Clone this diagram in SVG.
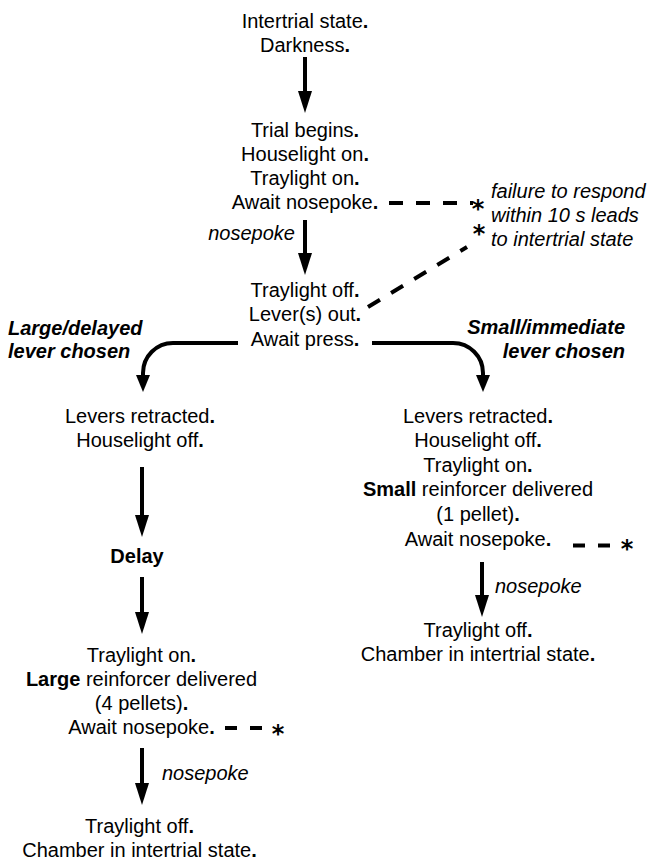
<svg xmlns="http://www.w3.org/2000/svg" width="650" height="863" viewBox="0 0 650 863">
<style>
text{font-family:"Liberation Sans",Arial,Helvetica,sans-serif;font-size:20px;fill:#000}
.c{text-anchor:middle}
.r{text-anchor:end}
.i{font-style:italic}
.bi{font-style:italic;font-weight:bold}
.b{font-weight:bold}
.ast{font-family:"DejaVu Sans",sans-serif;font-size:24px;font-weight:bold;text-anchor:middle}
.arr{fill:none;stroke:#000;stroke-width:4;marker-end:url(#ah)}
.arrc{fill:none;stroke:#000;stroke-width:4;marker-end:url(#ahs)}
.dash{fill:none;stroke:#000;stroke-width:4;stroke-dasharray:14 13}
</style>
<defs>
<marker id="ah" markerUnits="userSpaceOnUse" markerWidth="22" markerHeight="14" refX="1" refY="7" orient="auto" overflow="visible"><path d="M0,0 L22,7 L0,14 z" fill="#000"/></marker>
<marker id="ahs" markerUnits="userSpaceOnUse" markerWidth="17" markerHeight="14" refX="1" refY="7" orient="auto" overflow="visible"><path d="M0,0 L17,7 L0,14 z" fill="#000"/></marker>
</defs>

<g id="connectors">
<path class="arr" d="M305,57 V92"/>
<path class="arr" d="M305,220 V254"/>
<path class="arrc" d="M238,343 H173 A30,30 0 0 0 143,373 V376"/>
<path class="arrc" d="M372,343 H453 A30,30 0 0 1 483,373 V376"/>
<path class="arr" d="M142,467 V516"/>
<path class="arr" d="M142,577 V613"/>
<path class="arr" d="M142,748 V784"/>
<path class="arr" d="M482,562 V596"/>
<path class="dash" d="M389,203 H473"/>
<path class="dash" d="M368,307 L467,247"/>
<path class="dash" d="M225,728 H264" style="stroke-dasharray:12 13"/>
<path class="dash" d="M573,545.5 H611" style="stroke-dasharray:12 13"/>
</g>

<g id="intertrial">
<text class="c" x="305" y="28">Intertrial state<tspan class="b">.</tspan></text>
<text class="c" x="305" y="52">Darkness<tspan class="b">.</tspan></text>
</g>

<g id="trial-begins">
<text class="c" x="305" y="137">Trial begins<tspan class="b">.</tspan></text>
<text class="c" x="305" y="161">Houselight on<tspan class="b">.</tspan></text>
<text class="c" x="305" y="185">Traylight on<tspan class="b">.</tspan></text>
<text class="c" x="305" y="209">Await nosepoke<tspan class="b">.</tspan></text>
</g>

<g id="failure-note">
<text class="ast"><tspan x="478" y="217">*</tspan><tspan x="479" y="242">*</tspan></text>
<text class="i" x="491" y="198">failure to respond</text>
<text class="i" x="491" y="222">within 10 s leads</text>
<text class="i" x="491" y="246">to intertrial state</text>
</g>

<g id="label-nosepoke-1">
<text class="i r" x="295" y="240">nosepoke</text>
</g>

<g id="await-press">
<text class="c" x="305" y="297">Traylight off<tspan class="b">.</tspan></text>
<text class="c" x="305" y="321">Lever(s) out<tspan class="b">.</tspan></text>
<text class="c" x="305" y="346">Await press<tspan class="b">.</tspan></text>
</g>

<g id="label-large">
<text class="bi" x="8" y="335">Large/delayed</text>
<text class="bi" x="8" y="358">lever chosen</text>
</g>

<g id="label-small">
<text class="bi r" x="625" y="334">Small/immediate</text>
<text class="bi r" x="625" y="358">lever chosen</text>
</g>

<g id="left-retracted">
<text class="c" x="140" y="423">Levers retracted<tspan class="b">.</tspan></text>
<text class="c" x="140" y="447">Houselight off<tspan class="b">.</tspan></text>
</g>

<g id="delay">
<text class="c b" x="137" y="563">Delay</text>
</g>

<g id="large-reinforcer">
<text class="c" x="141.5" y="662">Traylight on<tspan class="b">.</tspan></text>
<text class="c" x="141.5" y="686"><tspan class="b">Large</tspan> reinforcer delivered</text>
<text class="c" x="141.5" y="710">(4 pellets)<tspan class="b">.</tspan></text>
<text class="c" x="141.5" y="734">Await nosepoke<tspan class="b">.</tspan></text>
<text class="ast" x="278" y="742">*</text>
</g>

<g id="label-nosepoke-left">
<text class="i" x="162" y="780">nosepoke</text>
</g>

<g id="left-end">
<text class="c" x="139.5" y="833">Traylight off<tspan class="b">.</tspan></text>
<text class="c" x="139.5" y="857">Chamber in intertrial state<tspan class="b">.</tspan></text>
</g>

<g id="small-reinforcer">
<text class="c" x="478" y="423">Levers retracted<tspan class="b">.</tspan></text>
<text class="c" x="478" y="447">Houselight off<tspan class="b">.</tspan></text>
<text class="c" x="478" y="472">Traylight on<tspan class="b">.</tspan></text>
<text class="c" x="478" y="496"><tspan class="b">Small</tspan> reinforcer delivered</text>
<text class="c" x="478" y="521">(1 pellet)<tspan class="b">.</tspan></text>
<text class="c" x="478" y="546">Await nosepoke<tspan class="b">.</tspan></text>
<text class="ast" x="627" y="557">*</text>
</g>

<g id="label-nosepoke-right">
<text class="i" x="495" y="593">nosepoke</text>
</g>

<g id="right-end">
<text class="c" x="478" y="637">Traylight off<tspan class="b">.</tspan></text>
<text class="c" x="478" y="661">Chamber in intertrial state<tspan class="b">.</tspan></text>
</g>
</svg>
